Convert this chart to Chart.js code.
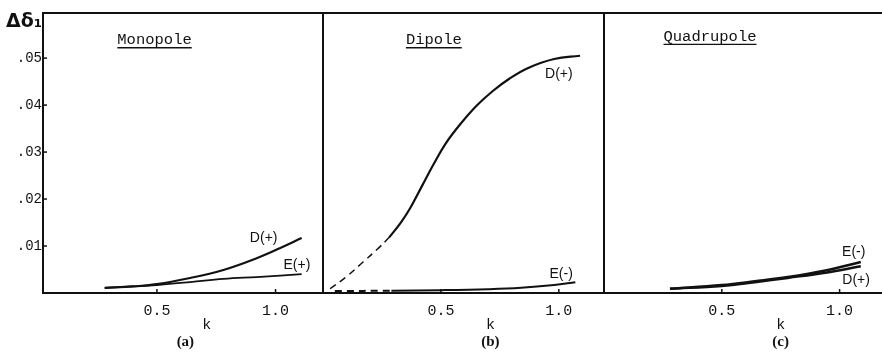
<!DOCTYPE html>
<html>
<head>
<meta charset="utf-8">
<script src="https://cdn.jsdelivr.net/npm/chart.js@4"></script>
<style>
  html, body { margin: 0; padding: 0; background: #fff; }
  #wrap { position: relative; width: 882px; height: 354px; overflow: hidden; background: #fff; }
  .panel { position: absolute; top: 0; }
</style>
</head>
<body>
<div id="wrap">
  <div class="panel" style="left:0px"><canvas id="mono" width="323" height="354"></canvas></div>
  <div class="panel" style="left:313px"><canvas id="dip" width="293" height="354"></canvas></div>
  <div class="panel" style="left:594px"><canvas id="quad" width="288" height="354"></canvas></div>
</div>
<script>
// Phase-shift differences Δδ₁ versus k for the three multipoles.

// Monopole
const kMono  = [0.28, 0.40, 0.50, 0.64, 0.78, 0.92, 1.02, 1.11];
const monoD  = [0.0011, 0.0014, 0.0019, 0.0032, 0.0049, 0.0074, 0.0096, 0.0117];
const monoE  = [0.0011, 0.0014, 0.0017, 0.0023, 0.0030, 0.0034, 0.0037, 0.0040];

// Dipole (dashed = extrapolated part at small k)
const kDipDDash = [0.03, 0.10, 0.17, 0.23, 0.28];
const dipDDash  = [0.0009, 0.0035, 0.0066, 0.0093, 0.0118];
const kDipD     = [0.28, 0.33, 0.37, 0.42, 0.47, 0.52, 0.58, 0.65, 0.72, 0.79, 0.87, 0.98, 1.09];
const dipD      = [0.0118, 0.0150, 0.0181, 0.0228, 0.0275, 0.0318, 0.0358, 0.0398, 0.0430, 0.0456, 0.0479, 0.0498, 0.0505];
const kDipEDash = [0.05, 0.29];
const dipEDash  = [0.0004, 0.0005];
const kDipE     = [0.29, 0.50, 0.70, 0.84, 0.98, 1.07];
const dipE      = [0.0005, 0.0006, 0.0008, 0.0011, 0.0017, 0.0023];

// Quadrupole
const kQuad = [0.28, 0.50, 0.64, 0.78, 0.94, 1.09];
const quadE = [0.0009, 0.0017, 0.0025, 0.0034, 0.0048, 0.0066];
const quadD = [0.0009, 0.0015, 0.0023, 0.0032, 0.0043, 0.0057];

// Axis ticks
const yTickValues = [0.01, 0.02, 0.03, 0.04, 0.05];
const yTickLabels = ['.01', '.02', '.03', '.04', '.05'];
const xTickValues = [0.5, 1.0];
const xTickLabels = ['0.5', '1.0'];

const INK = '#111';
const MONO_FONT = '"Liberation Mono", "Courier New", monospace';

function pts(ks, vs) { return ks.map((k, i) => ({ x: k, y: vs[i] })); }

function line(data, width, dashed) {
  return {
    data, borderColor: INK, borderWidth: width, pointRadius: 0,
    borderDash: dashed ? [7, 5] : [], tension: 0.4,
    fill: false
  };
}

// Frame top edge, inward tick stubs and all the text annotations of a panel
function decorPlugin(cfg) {
  return {
    id: 'decor',
    afterDraw(chart) {
      const ctx = chart.ctx;
      const a = chart.chartArea;
      const xs = chart.scales.x, ys = chart.scales.y;
      ctx.save();
      ctx.strokeStyle = INK;
      ctx.lineWidth = 2;
      ctx.beginPath();
      ctx.moveTo(a.left - 1, a.top);
      ctx.lineTo(chart.width, a.top);
      ctx.stroke();
      ctx.lineWidth = 1.5;
      xTickValues.forEach(v => {
        const px = xs.getPixelForValue(v);
        ctx.beginPath(); ctx.moveTo(px, a.bottom); ctx.lineTo(px, a.bottom - 4); ctx.stroke();
      });
      if (cfg.yTicks) {
        yTickValues.forEach(v => {
          const py = ys.getPixelForValue(v);
          ctx.beginPath(); ctx.moveTo(a.left, py); ctx.lineTo(a.left + 4, py); ctx.stroke();
        });
      }
      ctx.fillStyle = INK;
      // panel title, underlined
      ctx.font = '15.5px ' + MONO_FONT;
      ctx.textAlign = 'center';
      ctx.textBaseline = 'alphabetic';
      const tx = xs.getPixelForValue(cfg.title.k), ty = ys.getPixelForValue(cfg.title.v);
      ctx.fillText(cfg.title.text, tx, ty + 4);
      const tw = ctx.measureText(cfg.title.text).width;
      ctx.lineWidth = 1.3;
      ctx.beginPath(); ctx.moveTo(tx - tw / 2, ty + 7.5); ctx.lineTo(tx + tw / 2, ty + 7.5); ctx.stroke();
      // curve labels
      ctx.font = '14px "Liberation Sans", Arial, sans-serif';
      ctx.textBaseline = 'middle';
      cfg.labels.forEach(l => {
        ctx.fillText(l.text, xs.getPixelForValue(l.k), ys.getPixelForValue(l.v));
      });
      // axis title and panel letter
      ctx.font = '15px ' + MONO_FONT;
      ctx.fillText('k', xs.getPixelForValue(cfg.kLabel), 325);
      ctx.font = 'bold 15px "Liberation Serif", "Times New Roman", serif';
      ctx.fillText(cfg.letter.text, xs.getPixelForValue(cfg.letter.k), 342);
      if (cfg.yTitle) {
        ctx.font = 'bold 19px "DejaVu Sans", sans-serif';
        ctx.textAlign = 'left';
        ctx.fillText('Δδ₁', 6, 22);
      }
      ctx.restore();
    }
  };
}

function makePanel(id, cfg) {
  const yWidth = cfg.yTicks ? 43 : 10;
  new Chart(document.getElementById(id), {
    type: 'line',
    data: { datasets: cfg.datasets },
    options: {
      responsive: false,
      animation: false,
      layout: { padding: { top: 13, right: 0, left: 0, bottom: 0 } },
      plugins: { legend: { display: false }, tooltip: { enabled: false }, title: { display: false } },
      scales: {
        x: {
          type: 'linear', min: cfg.xMin, max: cfg.xMax,
          grid: { drawOnChartArea: false, drawTicks: false },
          border: { display: true, color: INK, width: 2 },
          afterBuildTicks: s => { s.ticks = xTickValues.map(v => ({ value: v })); },
          ticks: {
            padding: 9, color: INK, font: { family: MONO_FONT, size: 15 },
            maxRotation: 0, autoSkip: false,
            callback: v => { const i = xTickValues.indexOf(v); return i >= 0 ? xTickLabels[i] : ''; }
          },
          afterFit: s => { s.height = 61; }
        },
        y: {
          type: 'linear', min: 0, max: 0.0596,
          grid: { drawOnChartArea: false, drawTicks: false },
          border: { display: true, color: INK, width: 2 },
          afterBuildTicks: s => { s.ticks = yTickValues.map(v => ({ value: v })); },
          ticks: {
            display: cfg.yTicks, padding: 1, color: INK, font: { family: MONO_FONT, size: 14 },
            callback: v => { const i = yTickValues.findIndex(t => Math.abs(t - v) < 1e-9); return i >= 0 ? yTickLabels[i] : ''; }
          },
          afterFit: s => { s.width = yWidth; }
        }
      }
    },
    plugins: [decorPlugin(cfg)]
  });
}

makePanel('mono', {
  xMin: 0.02, xMax: 1.2, yTicks: true, yTitle: true,
  datasets: [line(pts(kMono, monoD), 2.2), line(pts(kMono, monoE), 1.8)],
  title: { text: 'Monopole', k: 0.49, v: 0.0538 },
  labels: [{ text: 'D(+)', k: 0.95, v: 0.0117 }, { text: 'E(+)', k: 1.09, v: 0.0060 }],
  kLabel: 0.71, letter: { text: '(a)', k: 0.62 }
});

makePanel('dip', {
  xMin: 0, xMax: 1.2, yTicks: false,
  datasets: [
    line(pts(kDipDDash, dipDDash), 1.5, true),
    line(pts(kDipD, dipD), 2.2),
    line(pts(kDipEDash, dipEDash), 2, true),
    line(pts(kDipE, dipE), 2)
  ],
  title: { text: 'Dipole', k: 0.47, v: 0.0538 },
  labels: [{ text: 'D(+)', k: 1.00, v: 0.0466 }, { text: 'E(-)', k: 1.01, v: 0.0040 }],
  kLabel: 0.71, letter: { text: '(b)', k: 0.71 }
});

makePanel('quad', {
  xMin: 0, xMax: 1.18, yTicks: false,
  datasets: [line(pts(kQuad, quadE), 2.4), line(pts(kQuad, quadD), 2.4)],
  title: { text: 'Quadrupole', k: 0.45, v: 0.0545 },
  labels: [{ text: 'E(-)', k: 1.06, v: 0.0087 }, { text: 'D(+)', k: 1.07, v: 0.0028 }],
  kLabel: 0.75, letter: { text: '(c)', k: 0.75 }
});
</script>
</body>
</html>
